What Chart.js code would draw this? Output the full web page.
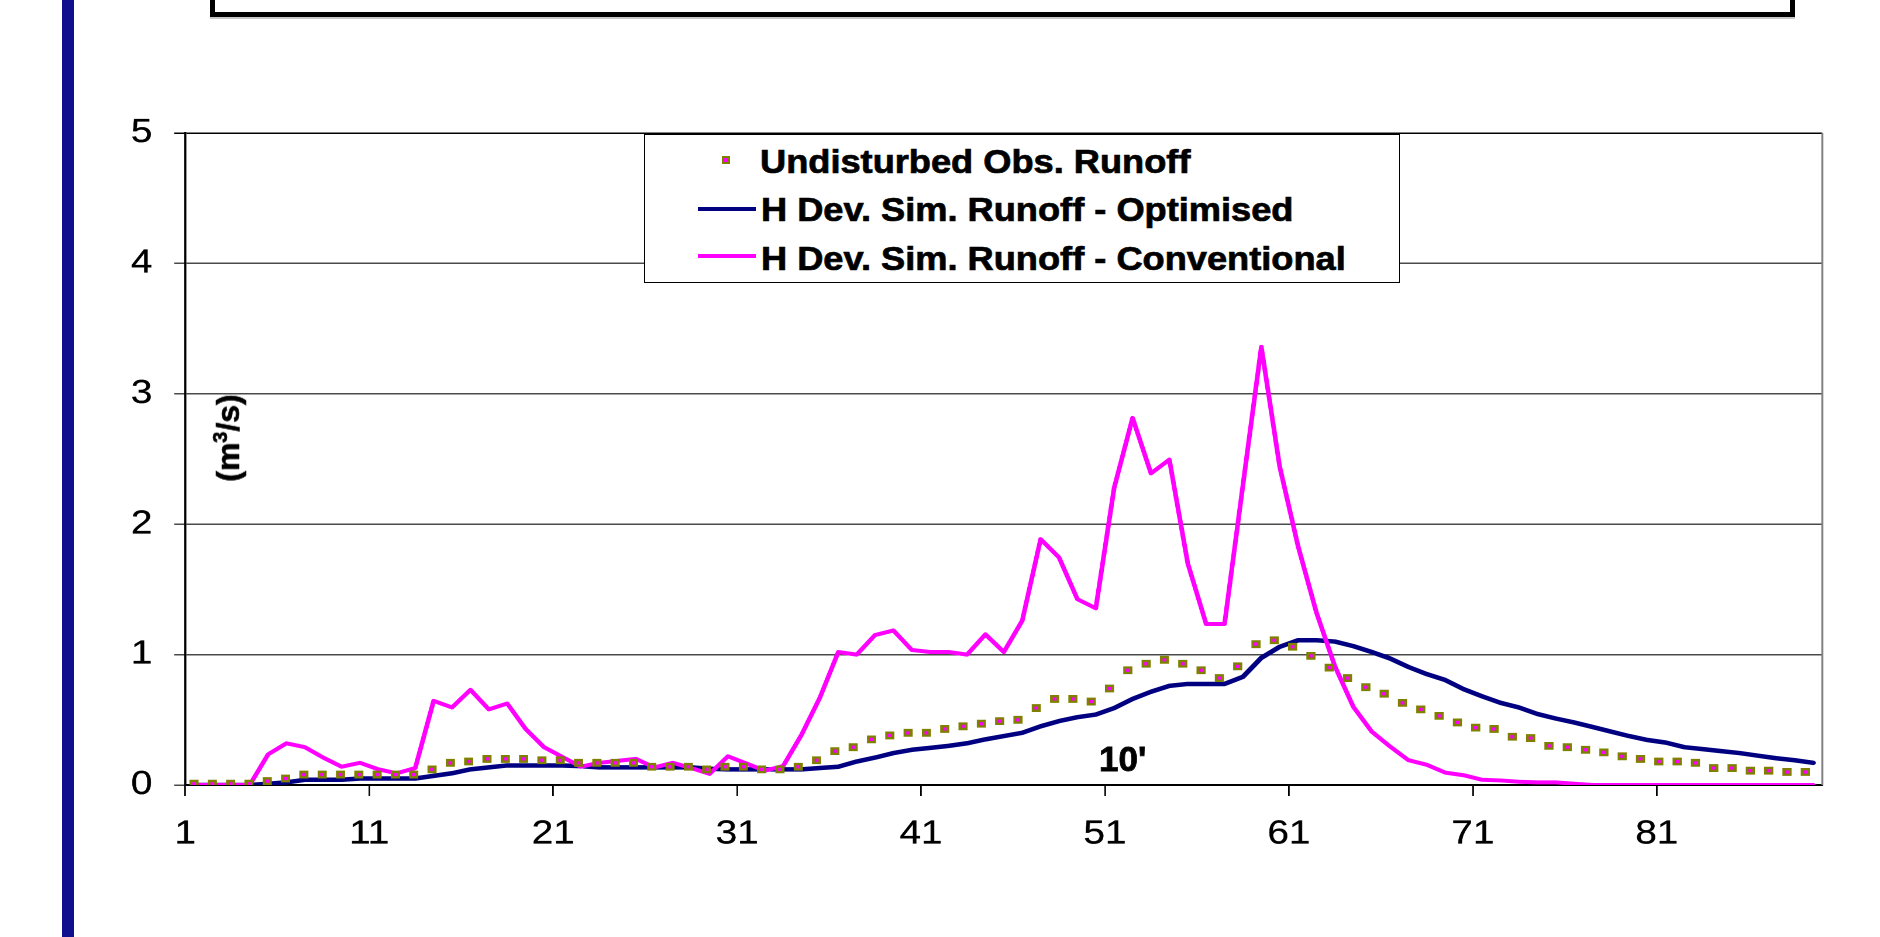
<!DOCTYPE html>
<html>
<head>
<meta charset="utf-8">
<script src="https://cdn.jsdelivr.net/npm/chart.js@4.4.1/dist/chart.umd.min.js"></script>
<style>
html,body{margin:0;padding:0;background:#fff;width:1880px;height:937px;overflow:hidden;font-family:"Liberation Sans",Arial,sans-serif;}
#c{position:absolute;left:0;top:0;display:block;transform-origin:0 0;transform:scaleX(1.16988);}
.bar{position:absolute;left:62px;top:0;width:12px;height:937px;background:#10108f;}
.tbl{position:absolute;left:210px;top:-25px;width:1585px;height:42px;box-sizing:border-box;border-left:5px solid #000;border-right:5px solid #000;border-bottom:5px solid #000;box-shadow:0 2px 0 #c8c8c8;}
.div{position:absolute;top:0;width:2px;height:12px;background:#000;}
#legend{position:absolute;left:644px;top:134px;width:756px;height:149px;box-sizing:border-box;border:1.5px solid #000;background:#fff;}
.lt{position:absolute;font-weight:bold;font-size:34px;line-height:1;white-space:nowrap;color:#000;transform-origin:0 50%;transform:scaleX(1.065);-webkit-text-stroke:0.7px #000;}
.ls{position:absolute;height:4px;width:58px;left:698px;}
.lm{position:absolute;left:722px;top:156px;width:8px;height:8px;box-sizing:border-box;border:2.5px solid #808000;background:#ff00ff;}
#ytitle{position:absolute;left:227.5px;top:437.5px;transform:translate(-50%,-50%) rotate(-90deg);font-weight:bold;font-size:32px;line-height:1;white-space:nowrap;-webkit-text-stroke:0.6px #000;}
#ytitle sup{font-size:0.62em;vertical-align:0.6em;line-height:0;}
#note{position:absolute;left:1099px;top:741px;font-weight:bold;font-size:35px;line-height:1;white-space:nowrap;-webkit-text-stroke:0.8px #000;}
</style>
</head>
<body>
<div class="bar"></div>
<div class="tbl"><div class="div" style="left:682px"></div><div class="div" style="left:1051px"></div></div>
<canvas id="c" width="1607" height="937"></canvas>
<div id="ytitle">(m<sup>3</sup>/s)</div>
<div id="note">10'</div>
<div id="legend"></div>
<div class="lm"></div>
<div class="lt" style="left:760px;top:143.9px">Undisturbed Obs. Runoff</div>
<div class="ls" style="top:207.3px;background:#000080"></div>
<div class="lt" style="left:761px;top:192.4px">H Dev. Sim. Runoff - Optimised</div>
<div class="ls" style="top:253.7px;background:#ff00ff"></div>
<div class="lt" style="left:761px;top:240.9px">H Dev. Sim. Runoff - Conventional</div>
<script>
// ---- data ----
const days = [1,2,3,4,5,6,7,8,9,10,11,12,13,14,15,16,17,18,19,20,21,22,23,24,25,26,27,28,29,30,
  31,32,33,34,35,36,37,38,39,40,41,42,43,44,45,46,47,48,49,50,51,52,53,54,55,56,57,58,59,60,
  61,62,63,64,65,66,67,68,69,70,71,72,73,74,75,76,77,78,79,80,81,82,83,84,85,86,87,88,89];

const obsRunoff = [0.01,0.01,0.01,0.01,0.03,0.05,0.08,0.08,0.08,0.08,
  0.08,0.08,0.08,0.12,0.17,0.18,0.20,0.20,0.20,0.19,
  0.19,0.17,0.17,0.17,0.17,0.14,0.14,0.14,0.12,0.14,
  0.14,0.12,0.12,0.14,0.19,0.26,0.29,0.35,0.38,0.40,
  0.40,0.43,0.45,0.47,0.49,0.50,0.59,0.66,0.66,0.64,
  0.74,0.88,0.93,0.96,0.93,0.88,0.82,0.91,1.08,1.11,
  1.06,0.99,0.90,0.82,0.75,0.70,0.63,0.58,0.53,0.48,
  0.44,0.43,0.37,0.36,0.30,0.29,0.27,0.25,0.22,0.20,
  0.18,0.18,0.17,0.13,0.13,0.11,0.11,0.10,0.10];

const simOptimised = [0,0,0,0,0.01,0.02,0.04,0.04,0.04,0.05,
  0.05,0.05,0.05,0.07,0.09,0.12,0.135,0.15,0.15,0.15,
  0.15,0.145,0.135,0.135,0.135,0.135,0.135,0.135,0.125,0.12,
  0.12,0.12,0.12,0.12,0.13,0.14,0.18,0.21,0.245,0.27,
  0.285,0.30,0.32,0.35,0.375,0.40,0.45,0.49,0.52,0.54,
  0.59,0.66,0.715,0.76,0.775,0.775,0.775,0.83,0.975,1.06,
  1.11,1.11,1.10,1.065,1.02,0.97,0.905,0.85,0.805,0.735,
  0.68,0.63,0.595,0.545,0.51,0.48,0.445,0.41,0.375,0.345,
  0.325,0.29,0.275,0.26,0.245,0.225,0.205,0.19,0.17];

const simConventional = [0,0,0,0,0.235,0.32,0.29,0.21,0.14,0.17,
  0.12,0.09,0.13,0.645,0.595,0.73,0.58,0.625,0.43,0.29,
  0.215,0.14,0.17,0.185,0.20,0.135,0.17,0.13,0.085,0.22,
  0.165,0.11,0.145,0.385,0.67,1.02,1.0,1.15,1.185,1.035,
  1.02,1.02,1.0,1.155,1.02,1.26,1.885,1.745,1.425,1.355,
  2.28,2.815,2.39,2.495,1.70,1.235,1.235,2.30,3.36,2.44,
  1.83,1.32,0.91,0.60,0.41,0.295,0.19,0.155,0.095,0.075,
  0.04,0.035,0.025,0.02,0.02,0.01,0,0,0,0,
  0,0,0,0,0,0,0,0,0];

const xTickLabels = ['1','11','21','31','41','51','61','71','81'];
const yTickValues = [0,1,2,3,4,5];

// ---- chart ----
Chart.defaults.font.family = '"Liberation Sans", Arial, sans-serif';
Chart.defaults.color = '#000';

const toXY = arr => days.map((d, i) => ({x: d, y: arr[i]}));

const framePlugin = {
  id: 'frame',
  beforeDatasetsDraw(chart) {
    const {ctx, chartArea: a} = chart;
    ctx.save();
    ctx.strokeStyle = '#808080';
    ctx.lineWidth = 1.8;
    ctx.beginPath();
    ctx.moveTo(a.right, a.top);
    ctx.lineTo(a.right, a.bottom);
    ctx.stroke();
    ctx.restore();
  }
};

new Chart(document.getElementById('c'), {
  type: 'line',
  data: {
    datasets: [
      {
        label: 'Undisturbed Obs. Runoff',
        data: toXY(obsRunoff),
        xAxisID: 'xObs',
        showLine: false,
        pointStyle: 'rect',
        pointRadius: 3.9,
        pointBorderWidth: 2.3,
        pointBackgroundColor: '#ff00ff',
        pointBorderColor: '#808000',
        order: 0
      },
      {
        label: 'H Dev. Sim. Runoff - Optimised',
        data: toXY(simOptimised),
        xAxisID: 'x',
        borderColor: '#000080',
        borderWidth: 4.5,
        pointRadius: 0,
        tension: 0,
        borderJoinStyle: 'round',
        borderCapStyle: 'round',
        order: 2
      },
      {
        label: 'H Dev. Sim. Runoff - Conventional',
        data: toXY(simConventional),
        xAxisID: 'x',
        borderColor: '#ff00ff',
        borderWidth: 4,
        pointRadius: 0,
        tension: 0,
        borderJoinStyle: 'round',
        borderCapStyle: 'round',
        order: 1
      }
    ]
  },
  options: {
    responsive: false,
    animation: false,
    devicePixelRatio: 2,
    events: [],
    layout: {padding: {left: 0, right: 49.3, top: 133, bottom: 52}},
    plugins: {legend: {display: false}, tooltip: {enabled: false}},
    scales: {
      x: {
        type: 'linear',
        position: 'bottom',
        min: 0.5,
        max: days.length + 0.5,
        afterBuildTicks: s => { s.ticks = xTickLabels.map(l => ({value: Number(l) - 0.5})); },
        afterFit: s => { s.height = 100; },
        ticks: {
          callback: (v, i) => xTickLabels[i],
          font: {size: 33},
          color: '#000',
          textStrokeColor: '#000',
          textStrokeWidth: 0.3,
          padding: 18.5,
          maxRotation: 0,
          autoSkip: false
        },
        grid: {drawOnChartArea: false, drawTicks: true, tickLength: 11, color: '#000', lineWidth: 1.4},
        border: {display: true, color: '#000', width: 2}
      },
      xObs: {
        type: 'linear',
        display: false,
        min: 0.525,
        max: 89.93
      },
      y: {
        min: 0,
        max: 5,
        afterBuildTicks: s => { s.ticks = yTickValues.map(v => ({value: v})); },
        afterFit: s => { s.width = 158.4; },
        ticks: {font: {size: 33}, color: '#000', textStrokeColor: '#000', textStrokeWidth: 0.3, padding: 18.8},
        grid: {
          color: c => (c.tick && c.tick.value === 5) ? '#000' : '#4a4a4a',
          lineWidth: 1.5,
          tickLength: 9.4,
          drawTicks: true
        },
        border: {display: true, color: '#000', width: 1.8}
      }
    }
  },
  plugins: [framePlugin]
});
</script>
</body>
</html>
